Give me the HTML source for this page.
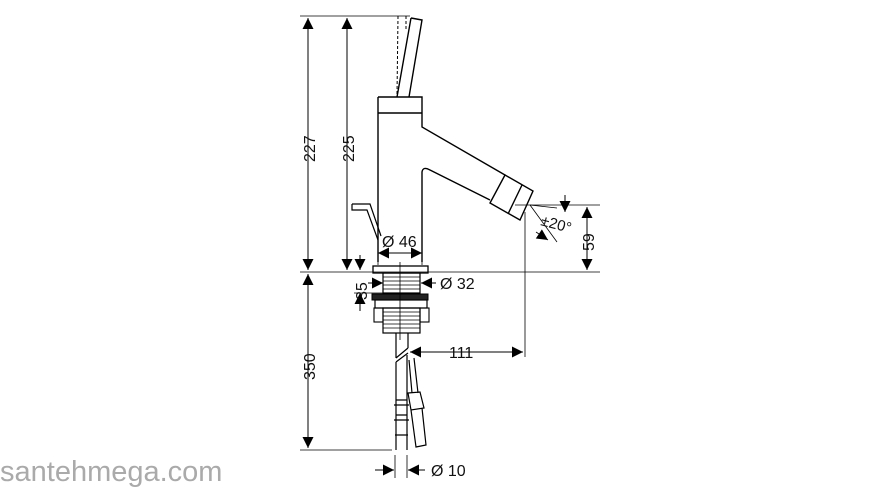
<!DOCTYPE html>
<html><head><style>
html,body{margin:0;padding:0;background:#fff;width:880px;height:500px;overflow:hidden}
svg{display:block}
text{font-family:"Liberation Sans",sans-serif;fill:#111}
</style></head><body>
<svg width="880" height="500" viewBox="0 0 880 500">
<defs>
<marker id="a" viewBox="0 0 10 10" refX="10" refY="5" markerWidth="12" markerHeight="11" orient="auto-start-reverse" markerUnits="userSpaceOnUse"><path d="M0,0L10,5L0,10z" fill="#000"/></marker>
</defs>
<g stroke="#000" fill="none" stroke-width="1">
<line x1="300" y1="16" x2="410" y2="16" stroke-width="0.8"/>
<line x1="300" y1="272" x2="600" y2="272" stroke-width="0.8"/>
<line x1="300" y1="450" x2="392" y2="450" stroke-width="0.8"/>
<line x1="515" y1="205" x2="600" y2="205" stroke-width="0.8"/>
<line x1="525" y1="212" x2="525" y2="357" stroke-width="0.8"/>
<line x1="308" y1="18" x2="308" y2="270" marker-start="url(#a)" marker-end="url(#a)"/>
<line x1="347" y1="18" x2="347" y2="270" marker-start="url(#a)" marker-end="url(#a)"/>
<line x1="308" y1="274" x2="308" y2="448" marker-start="url(#a)" marker-end="url(#a)"/>
<line x1="360" y1="255" x2="360" y2="270" marker-end="url(#a)"/>
<line x1="360" y1="311" x2="360" y2="293" marker-end="url(#a)"/>
<line x1="354" y1="293" x2="384" y2="293" stroke-width="0.8"/>
<line x1="587" y1="207" x2="587" y2="270" marker-start="url(#a)" marker-end="url(#a)"/>
<line x1="565" y1="195" x2="565" y2="212" marker-end="url(#a)"/>
<line x1="378" y1="253" x2="422" y2="253" marker-start="url(#a)" marker-end="url(#a)"/>
<line x1="378" y1="240" x2="378" y2="265" stroke-width="0.8"/>
<line x1="422" y1="240" x2="422" y2="265" stroke-width="0.8"/>
<line x1="368" y1="283" x2="383" y2="283" marker-end="url(#a)"/>
<line x1="436" y1="283" x2="421" y2="283" marker-end="url(#a)"/>
<line x1="410" y1="352" x2="523" y2="352" marker-start="url(#a)" marker-end="url(#a)"/>
<line x1="375" y1="470" x2="394" y2="470" marker-end="url(#a)"/>
<line x1="425" y1="470" x2="408" y2="470" marker-end="url(#a)"/>
<line x1="395" y1="455" x2="395" y2="478" stroke-width="0.8"/>
<line x1="407" y1="455" x2="407" y2="478" stroke-width="0.8"/>
<line x1="530" y1="205" x2="557" y2="208" stroke-width="0.8"/>
<line x1="530" y1="205" x2="557" y2="242" stroke-width="0.8"/>
<line x1="536" y1="232" x2="548" y2="240" marker-end="url(#a)" stroke-width="0.8"/>
<line x1="398" y1="16" x2="397" y2="95" stroke-dasharray="3,2"/>
<line x1="406" y1="16" x2="406" y2="30" stroke-dasharray="3,2"/>
<path d="M411,18 L422,20 L409,97 M411,18 L397,97" stroke-width="1.4"/>
<path d="M378,97 H422 V127 L505,175 M378,97 V262 M422,262 V172 Q423,166 430,170 L490,200 M378,113 H422" stroke-width="1.4"/>
<path d="M505,175 L533,191 L520,220 L490,203 Z M522,185 L508,214" stroke-width="1.4"/>
<path d="M352,204 L370,204 L381,236 M352,204 L352,210 L367,210 L378,240" stroke-width="1.2"/>
<rect x="373" y="266" width="55" height="7" stroke-width="1.3"/>
<rect x="383" y="273" width="37" height="20" stroke-width="1.2"/>
<path d="M383,277H420M383,281H420M383,285H420M383,289H420" stroke-width="0.8"/>
<rect x="372" y="294" width="56" height="6" fill="#222"/>
<rect x="375" y="300" width="52" height="8" stroke-width="1.2"/>
<rect x="383" y="308" width="37" height="25" stroke-width="1.2"/>
<path d="M383,312H420M383,316H420M383,320H420M383,324H420M383,328H420" stroke-width="0.8"/>
<rect x="374" y="308" width="9" height="14" stroke-width="1.1"/>
<rect x="420" y="308" width="9" height="14" stroke-width="1.1"/>
<line x1="400" y1="262" x2="400" y2="340" stroke-width="0.8"/>
<path d="M396,333 V358 M408,333 V348 M396,358 L408,348 M396,362 L408,353 M396,362 V450 M407,355 V450 M396,400 H407 M396,415 H407 M394,420 H409 M394,405 H409 M395,435 H408" stroke-width="1.2"/>
<path d="M409,360 L412,393 M414,358 L418,393 M408,393 L420,392 L424,408 L411,410 Z M411,410 L416,447 L426,445 L422,408" stroke-width="1.2"/>
</g>
<g font-size="16">
<text transform="translate(315,162) rotate(-90)">227</text>
<text transform="translate(354,162) rotate(-90)">225</text>
<text transform="translate(315,380) rotate(-90)">350</text>
<text transform="translate(367,300) rotate(-90)">35</text>
<text transform="translate(594,251) rotate(-90)">59</text>
<text x="382" y="247">Ø 46</text>
<text x="440" y="289">Ø 32</text>
<text x="449" y="358">111</text>
<text x="431" y="476">Ø 10</text>
<text x="540" y="225" transform="rotate(15,540,225)" font-size="15">±20°</text>
</g>
<text x="0" y="481" font-size="29" style="fill:#aaa">santehmega.com</text>
</svg>
</body></html>
